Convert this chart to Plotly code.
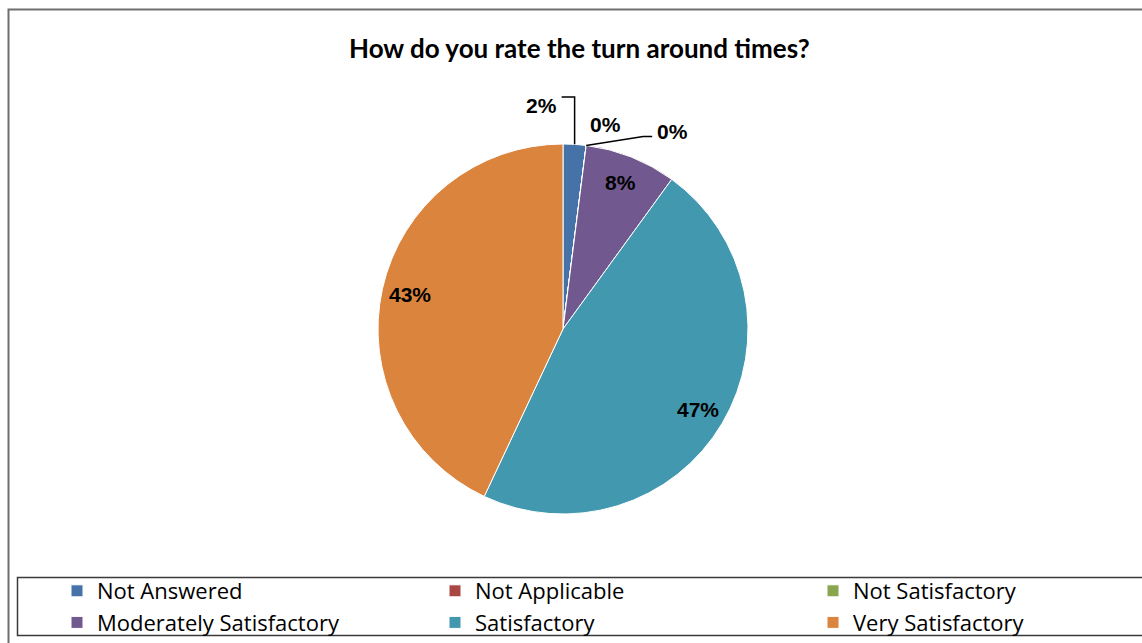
import math
import plotly.graph_objects as go

# Survey responses (percent of respondents)
categories = ["Not Answered", "Not Applicable", "Not Satisfactory",
              "Moderately Satisfactory", "Satisfactory", "Very Satisfactory"]
percentages = [2, 0, 0, 8, 47, 43]
colors = ["#4572A7", "#AA4643", "#89A54E", "#71588F", "#4198AF", "#DB843D"]

W, H = 1142, 643
CX, CY, R = 563, 329, 185  # pie centre and radius in pixels

fig = go.Figure()
fig.add_trace(go.Pie(
    labels=categories,
    values=percentages,
    marker=dict(colors=colors, line=dict(color="white", width=1)),
    sort=False,
    direction="clockwise",
    rotation=0,
    textinfo="none",
    hoverinfo="label+percent",
    domain=dict(x=[(CX - R) / W, (CX + R) / W],
                y=[1 - (CY + R) / H, 1 - (CY - R) / H]),
))


def px_to_paper(x, y):
    return x / W, 1 - y / H


def point_at(frac, radius):
    ang = 2 * math.pi * frac
    return CX + radius * math.sin(ang), CY - radius * math.cos(ang)


def path_from(points):
    coords = [px_to_paper(x, y) for x, y in points]
    return "M " + " L ".join(f"{x},{y}" for x, y in coords)


total = sum(percentages)
cum = 0
mids, ends = [], []
for v in percentages:
    mids.append((cum + v / 2) / total)
    cum += v
    ends.append(cum / total)

label_font = dict(family="Liberation Sans, Arial", size=21, color="black")
annotations = []
shapes = []

# Labels inside the larger slices
for i, v in enumerate(percentages):
    if v >= 5:
        x, y = point_at(mids[i], 0.85 * R)
        px, py = px_to_paper(x, y)
        annotations.append(dict(x=px, y=py, xref="paper", yref="paper",
                                text=f"<b>{v}%</b>", showarrow=False,
                                font=label_font, xanchor="center", yanchor="middle"))

# Outside label for "Not Answered" with an elbow leader line
ex, ey = point_at(mids[0], R)
elbow_y = 97
shapes.append(dict(type="path", path=path_from([(ex, ey), (ex, elbow_y), (ex - 13, elbow_y)]),
                   xref="paper", yref="paper", line=dict(color="black", width=1.5)))
lx, ly = px_to_paper(ex - 16, elbow_y + 8)
annotations.append(dict(x=lx, y=ly, xref="paper", yref="paper",
                        text=f"<b>{percentages[0]}%</b>", showarrow=False,
                        font=label_font, xanchor="right", yanchor="middle"))

# "Not Applicable" label (zero slice) just above the rim
zx, zy = point_at(ends[1], R)
lx, ly = px_to_paper(zx + 19, zy - 21)
annotations.append(dict(x=lx, y=ly, xref="paper", yref="paper",
                        text=f"<b>{percentages[1]}%</b>", showarrow=False,
                        font=label_font, xanchor="center", yanchor="middle"))

# "Not Satisfactory" label (zero slice) with a leader line
sx, sy = point_at(ends[2], R)
shapes.append(dict(type="path", path=path_from([(sx, sy), (sx + 57, sy - 9), (sx + 66, sy - 9)]),
                   xref="paper", yref="paper", line=dict(color="black", width=1.5)))
lx, ly = px_to_paper(sx + 69, sy - 14)
annotations.append(dict(x=lx, y=ly, xref="paper", yref="paper",
                        text=f"<b>{percentages[2]}%</b>", showarrow=False,
                        font=label_font, xanchor="left", yanchor="middle"))

# Chart title
tx, ty = px_to_paper(579, 48)
annotations.append(dict(x=tx, y=ty, xref="paper", yref="paper",
                        text="<b>How do you rate the turn around times?</b>",
                        showarrow=False, xanchor="center", yanchor="middle",
                        font=dict(family="Lato, Carlito, Calibri, sans-serif", size=26, color="black")))

# Outer chart frame
shapes.append(dict(type="rect", xref="paper", yref="paper",
                   x0=8.5 / W, x1=1.02, y0=-0.02, y1=1 - 9.5 / H,
                   line=dict(color="#6e6e6e", width=2), layer="below"))

# Legend frame
shapes.append(dict(type="rect", xref="paper", yref="paper",
                   x0=17.5 / W, x1=1.02, y0=1 - 635.5 / H, y1=1 - 577.5 / H,
                   line=dict(color="#3a3a3a", width=1.5), fillcolor="white", layer="below"))

fig.update_layout(
    width=W, height=H,
    margin=dict(l=0, r=0, t=0, b=0, autoexpand=False),
    paper_bgcolor="white",
    plot_bgcolor="white",
    showlegend=True,
    legend=dict(
        orientation="h",
        x=18 / W, xanchor="left",
        y=1 - 570 / H, yanchor="top",
        entrywidth=294, entrywidthmode="pixels",
        indentation=39,
        traceorder="normal",
        font=dict(family="Open Sans, sans-serif", size=22, color="black"),
        bgcolor="rgba(0,0,0,0)",
        borderwidth=0,
    ),
    annotations=annotations,
    shapes=shapes,
)

fig.write_html("out.html")
